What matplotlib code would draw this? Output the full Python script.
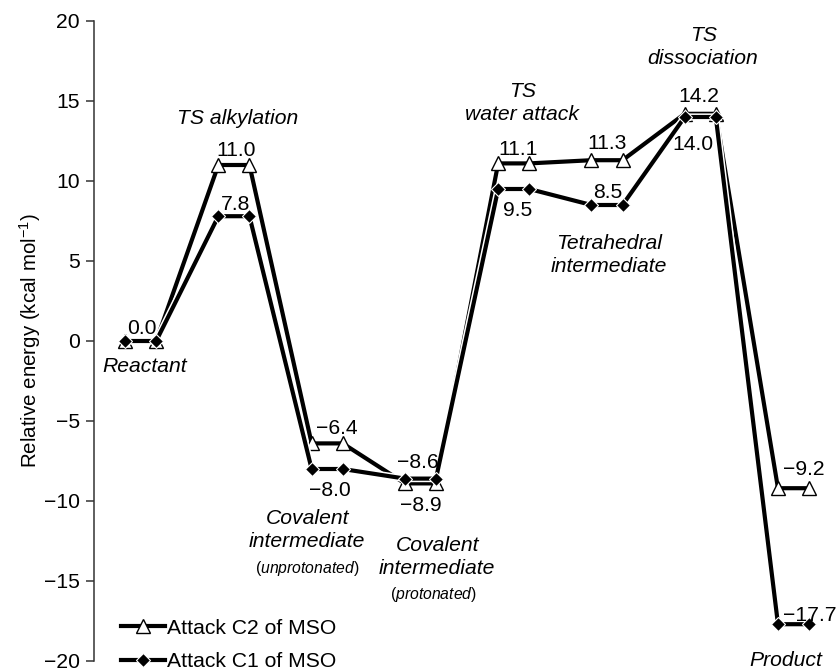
import matplotlib
matplotlib.use("Agg")
import matplotlib.pyplot as plt
import matplotlib.patheffects as pe
from matplotlib.lines import Line2D

plt.rcParams["font.family"] = ["Liberation Sans", "DejaVu Sans"]
plt.rcParams["mathtext.fontset"] = "custom"
plt.rcParams["mathtext.rm"] = "Liberation Sans"
plt.rcParams["mathtext.it"] = "Liberation Sans:italic"

# Reaction path states and relative energies (kcal/mol)
states = ["Reactant", "TS alkylation", "Covalent intermediate (unprotonated)",
          "Covalent intermediate (protonated)", "TS water attack",
          "Tetrahedral intermediate", "TS dissociation", "Product"]
energy_c2 = [0.0, 11.0, -6.4, -8.9, 11.1, 11.3, 14.2, -9.2]
energy_c1 = [0.0, 7.8, -8.0, -8.6, 9.5, 8.5, 14.0, -17.7]
series_names = ["Attack C2 of MSO", "Attack C1 of MSO"]
yticks = [-20, -15, -10, -5, 0, 5, 10, 15, 20]

W, H = 838, 671
fig = plt.figure(figsize=(W / 100, H / 100), dpi=100)
ax = fig.add_axes([94 / W, 10 / H, 744 / W, 640 / H])
ax.set_xlim(0, 744 / 31.09)
ax.set_ylim(-20, 20)

FS = 15.2
LW = 3.0
TRI = dict(marker="^", ms=10.5, mfc="white", mec="black", mew=1.0)
DIA = dict(marker="D", ms=7.0, mfc="black", mec="white", mew=0.8)


def fmt(v):
    return f"{v:.1f}".replace("-", "\u2212")


def level_xy(values):
    xs, ys = [], []
    for i, v in enumerate(values):
        xs += [3 * i + 1, 3 * i + 2]
        ys += [v, v]
    return xs, ys


halo = [pe.withStroke(linewidth=LW + 2.2, foreground="white")]

x2, y2 = level_xy(energy_c2)
x1, y1 = level_xy(energy_c1)

# C2 pathway: white triangles
ax.plot(x2, y2, color="black", lw=LW, solid_joinstyle="miter", path_effects=halo, zorder=2)
ax.plot(x2, y2, ls="none", zorder=3, **TRI)
# C1 pathway: black diamonds
ax.plot(x1, y1, color="black", lw=LW, solid_joinstyle="miter", path_effects=halo, zorder=4)
ax.plot(x1, y1, ls="none", zorder=5, **DIA)

# Value labels: offsets in pixels from the level centre
off_c2 = [(1, 12), (2, 14), (10, 15), (0, -22), (4, 14), (0, 17), (-1, 17), (10, 19)]
off_c1 = [None, (2, 12), (3, -21), (-3, 16), (4, -21), (1, 13), (-7, -28), (-11, 9)]

for i, v in enumerate(energy_c2):
    dx, dy = off_c2[i]
    ax.annotate(fmt(v), (3 * i + 1.5, v), xytext=(dx, dy), textcoords="offset pixels",
                ha="center", va="center", fontsize=FS, zorder=6)
for i, v in enumerate(energy_c1):
    if off_c1[i] is None:
        continue
    dx, dy = off_c1[i]
    ha = "left" if i == len(energy_c1) - 1 else "center"
    ax.annotate(fmt(v), (3 * i + 1.5, v), xytext=(dx, dy), textcoords="offset pixels",
                ha=ha, va="center", fontsize=FS, zorder=6)


def px(xp, yp):
    return ((xp - 93.9) / 31.09, (341 - yp) / 16.0)


def state_label(text, xp, yp, size=FS, spacing=1.27):
    ax.text(*px(xp, yp), text, ha="center", va="center", fontsize=size,
            style="italic", linespacing=spacing)


def paren_label(word, xp, yp, size=11.3):
    ax.text(*px(xp, yp), "($\\mathit{" + word + "}$)", ha="center", va="center",
            fontsize=size)


state_label("Reactant", 145, 367)
state_label("TS alkylation", 238, 118)
state_label("Covalent\nintermediate", 307, 530)
paren_label("unprotonated", 307, 568)
state_label("Covalent\nintermediate", 437, 557)
paren_label("protonated", 433, 594)
state_label("TS\nwater attack", 522, 103)
state_label("Tetrahedral\nintermediate", 609, 255)
state_label("TS\ndissociation", 703, 47)
state_label("Product", 786, 661)

# Axes styling: only the left spine
for s in ["top", "right", "bottom"]:
    ax.spines[s].set_visible(False)
ax.spines["left"].set_color("#333333")
ax.spines["left"].set_linewidth(1.1)
ax.set_xticks([])
ax.set_yticks(yticks)
ax.set_yticklabels([str(t).replace("-", "\u2212") for t in yticks])
ax.tick_params(axis="y", direction="out", length=5.8, width=1.1, color="#333333",
               labelsize=FS, pad=4.5)
ax.set_ylabel("Relative energy (kcal mol$^{\u22121}$)", fontsize=14.8)
ax.yaxis.set_label_coords(-0.068, 0.5)

handles = [
    Line2D([], [], color="black", lw=LW, **TRI),
    Line2D([], [], color="black", lw=LW, **DIA),
]
leg = ax.legend(handles, series_names, loc="lower left", bbox_to_anchor=(121 / W, 0 / H),
                bbox_transform=fig.transFigure, frameon=False, fontsize=FS,
                handlelength=2.1, handletextpad=0.1, labelspacing=0.68,
                borderpad=0, borderaxespad=0, numpoints=1)

fig.savefig("out.png", dpi=100)
